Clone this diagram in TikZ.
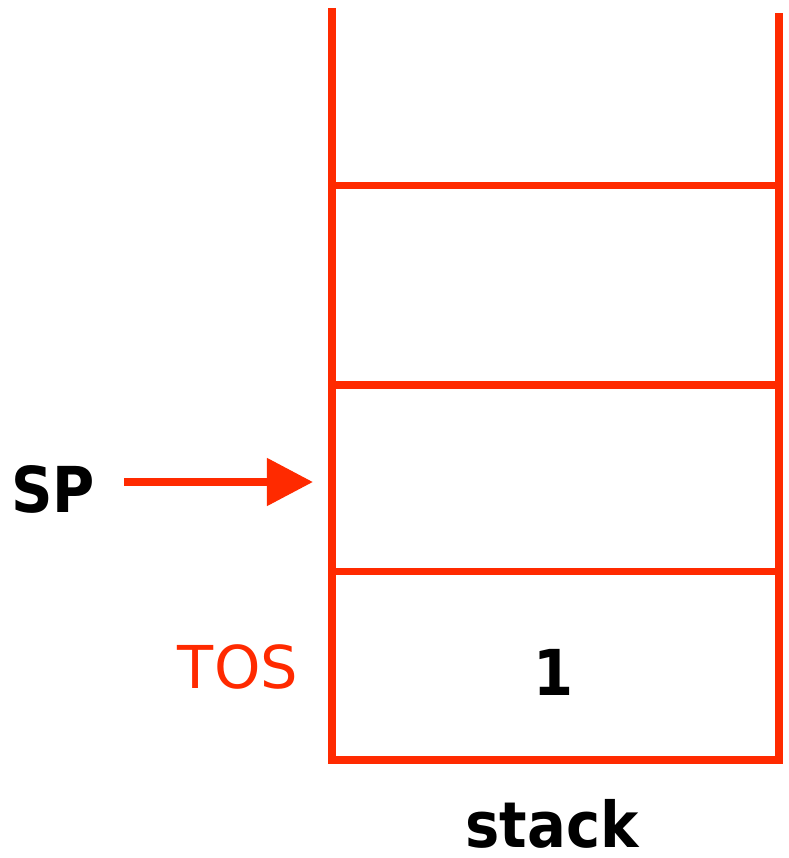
\documentclass[tikz,border=0pt]{standalone}
\usepackage{fontspec}
\setmainfont{DejaVu Sans}
\newfontfamily\narrowsans[FakeStretch=0.91]{DejaVu Sans}
\usetikzlibrary{arrows.meta}
\definecolor{stackred}{RGB}{255,42,0}

\begin{document}
\begin{tikzpicture}[x=0.01cm, y=-0.01cm,
	wall/.style={stackred, line width=0.08cm},
	shelf/.style={stackred, line width=0.07cm},
	lbl/.style={anchor=base, inner sep=0pt, font=\fontsize{18}{20}\narrowsans\bfseries}]
	\useasboundingbox (0,0) rectangle (788,858);
	% stack walls and floor
	\draw[wall] (332,8) -- (332,760) -- (779,760) -- (779,13);
	\foreach \y in {186,385,571}
		\draw[shelf] (332,\y) -- (779,\y);
	% labels
	\node[lbl] (sp) at (53,512) {SP};
	\node[lbl, font=\fontsize{16.8}{20}\selectfont, text=stackred] (tos) at (238,688) {TOS};
	\node[lbl] (one) at (554,695) {1};
	\node[lbl] (stack) at (552,847) {stack};
	% stack pointer
	\coordinate (sptail) at (124,482);
	\coordinate (sphead) at (313,482);
	\draw[stackred, line width=0.08cm, -{Triangle[length=0.46cm, width=0.46cm]}] (sptail) -- (sphead);
\end{tikzpicture}
\end{document}
